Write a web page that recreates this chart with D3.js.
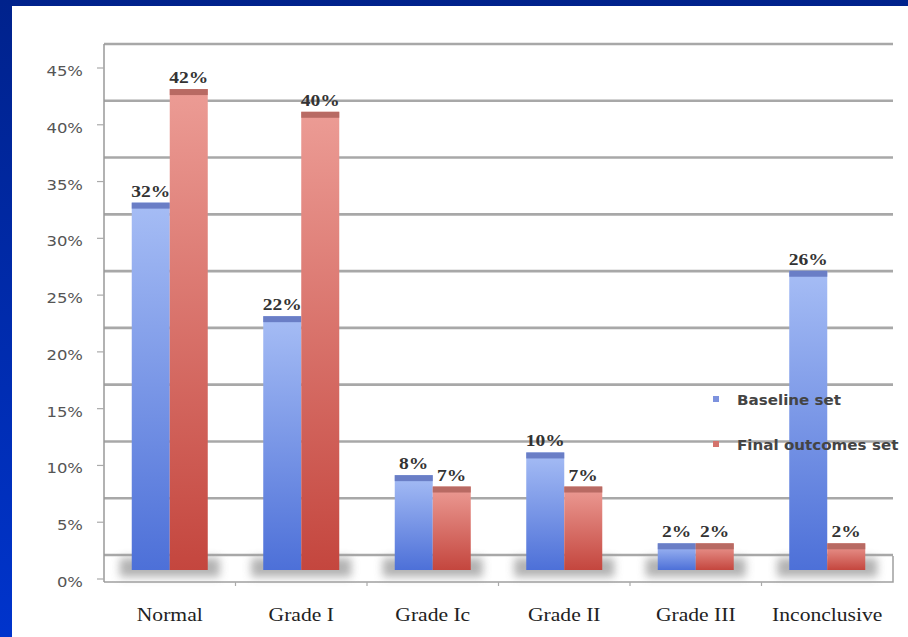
<!DOCTYPE html>
<html><head><meta charset="utf-8">
<script src="https://cdn.jsdelivr.net/npm/d3@7"></script>
<style>html,body{margin:0;padding:0;background:#fff;}svg{display:block;}</style>
</head><body>
<svg id="chart" width="908" height="637"></svg>
<script>
const categories = ["Normal", "Grade I", "Grade Ic", "Grade II", "Grade III", "Inconclusive"];
const seriesNames = ["Baseline set", "Final outcomes set"];
const baseline = [32, 22, 8, 10, 2, 26];
const finalOutcomes = [42, 40, 7, 7, 2, 2];
const yTicks = [0, 5, 10, 15, 20, 25, 30, 35, 40, 45];

const svg = d3.select("#chart");
const W = 908, H = 637;
const SX = 1.22;
const defs = svg.append("defs");

// frame gradient
const lg = defs.append("linearGradient").attr("id", "frameGrad").attr("x1", 0).attr("y1", 0).attr("x2", 0).attr("y2", 1);
lg.append("stop").attr("offset", "0%").attr("stop-color", "#00228c");
lg.append("stop").attr("offset", "100%").attr("stop-color", "#0034cc");

const blueG = defs.append("linearGradient").attr("id", "blueGrad").attr("x1", 0).attr("y1", 0).attr("x2", 0).attr("y2", 1);
blueG.append("stop").attr("offset", "0%").attr("stop-color", "#a6bdf5");
blueG.append("stop").attr("offset", "100%").attr("stop-color", "#4d70d8");
const redG = defs.append("linearGradient").attr("id", "redGrad").attr("x1", 0).attr("y1", 0).attr("x2", 0).attr("y2", 1);
redG.append("stop").attr("offset", "0%").attr("stop-color", "#ec9c95");
redG.append("stop").attr("offset", "100%").attr("stop-color", "#c4463e");

const blur = defs.append("filter").attr("id", "blur").attr("x", "-50%").attr("y", "-50%").attr("width", "200%").attr("height", "200%");
blur.append("feGaussianBlur").attr("stdDeviation", 4);

// background frame
svg.append("rect").attr("x", 0).attr("y", 0).attr("width", W).attr("height", H).attr("fill", "url(#frameGrad)");
svg.append("rect").attr("x", 12).attr("y", 6).attr("width", W - 12).attr("height", H - 6).attr("fill", "#ffffff");

// scales
const x = d3.scaleBand().domain(categories).range([104, 893]).padding(0);
const xs = d3.scaleBand().domain(seriesNames).range([0, x.bandwidth()]).paddingInner(0).paddingOuter(0.73);
const y = d3.scaleLinear().domain([0, 45]).range([582, 71]);
const gridOff = 27, barOff = 16, barBottom = y(0) - 12;

// gridlines (back wall)
svg.append("g").selectAll("line").data(yTicks).join("line")
  .attr("x1", 104).attr("x2", 893)
  .attr("y1", d => y(d) - gridOff).attr("y2", d => y(d) - gridOff)
  .attr("stroke", "#a8a8a8").attr("stroke-width", 2.6);

// floor
svg.append("path")
  .attr("d", `M104,${y(0)} L893,${y(0)} L893,${y(0) - gridOff + 1}`)
  .attr("fill", "none").attr("stroke", "#a0a0a0").attr("stroke-width", 1.5);

// vertical axis
svg.append("line").attr("x1", 104).attr("x2", 104).attr("y1", y(45) - gridOff).attr("y2", y(0))
  .attr("stroke", "#999").attr("stroke-width", 1.5);
// y ticks
svg.append("g").selectAll("line").data(yTicks).join("line")
  .attr("x1", 97).attr("x2", 104).attr("y1", d => y(d) - 3).attr("y2", d => y(d) - 3)
  .attr("stroke", "#aaa").attr("stroke-width", 1.2);
// x ticks
svg.append("g").selectAll("line").data(categories.slice(1)).join("line")
  .attr("x1", d => x(d)).attr("x2", d => x(d)).attr("y1", y(0)).attr("y2", y(0) + 4)
  .attr("stroke", "#aaa").attr("stroke-width", 1.2);

// floor shadows
svg.append("g").selectAll("rect").data(categories).join("rect")
  .attr("x", d => x(d) + xs(seriesNames[0]) - 12)
  .attr("width", xs.bandwidth() * 2 + 24)
  .attr("y", y(0) - gridOff + 3).attr("height", gridOff - 8)
  .attr("fill", "#9a9a9a").attr("opacity", 0.75).attr("filter", "url(#blur)");

// bars
const rows = categories.map((c, i) => ({ c, vals: [baseline[i], finalOutcomes[i]] }));
const fills = ["url(#blueGrad)", "url(#redGrad)"];
const tops = ["#6a7ec6", "#b86a63"];
const groups = svg.append("g").selectAll("g").data(rows).join("g")
  .attr("transform", d => `translate(${x(d.c)},0)`);
const bars = groups.selectAll("g").data(d => d.vals.map((v, k) => ({ v, k, s: seriesNames[k] }))).join("g");
bars.append("rect")
  .attr("x", d => xs(d.s)).attr("width", xs.bandwidth())
  .attr("y", d => y(d.v) - barOff).attr("height", d => barBottom - (y(d.v) - barOff))
  .attr("fill", d => fills[d.k]);
bars.append("rect")
  .attr("x", d => xs(d.s)).attr("width", xs.bandwidth())
  .attr("y", d => y(d.v) - barOff).attr("height", 6)
  .attr("fill", d => tops[d.k]);
bars.append("text")
  .attr("transform", d => `translate(${xs(d.s) + xs.bandwidth() / 2},${y(d.v) - barOff - 6}) scale(${SX},1)`)
  .attr("text-anchor", "middle")
  .attr("font-family", "Liberation Serif, serif").attr("font-weight", "bold").attr("font-size", 16)
  .attr("fill", "#333")
  .text(d => d.v + "%");

// y tick labels
svg.append("g").selectAll("text").data(yTicks).join("text")
  .attr("transform", d => `translate(83,${y(d) + 5}) scale(${SX},1)`)
  .attr("text-anchor", "end")
  .attr("font-family", "DejaVu Sans, sans-serif").attr("font-size", 13.5)
  .attr("fill", "#555")
  .text(d => d + "%");

// category labels
svg.append("g").selectAll("text").data(categories).join("text")
  .attr("transform", d => `translate(${x(d) + x.bandwidth() / 2},621) scale(1.2,1)`)
  .attr("text-anchor", "middle")
  .attr("font-family", "Liberation Serif, serif").attr("font-size", 18)
  .attr("fill", "#222")
  .text(d => d);

// legend
const legColors = ["#7d92de", "#d4736c"];
const leg = svg.append("g").selectAll("g").data(seriesNames).join("g")
  .attr("transform", (d, i) => `translate(713,${397 + i * 45})`);
leg.append("rect").attr("x", 0).attr("y", -1).attr("width", 6).attr("height", 6).attr("fill", (d, i) => legColors[i]);
leg.append("text")
  .attr("transform", `translate(24,8) scale(1.12,1)`)
  .attr("font-family", "DejaVu Sans, sans-serif").attr("font-size", 13.5).attr("font-weight", "bold")
  .attr("fill", "#444")
  .text(d => d);
</script>
</body></html>
